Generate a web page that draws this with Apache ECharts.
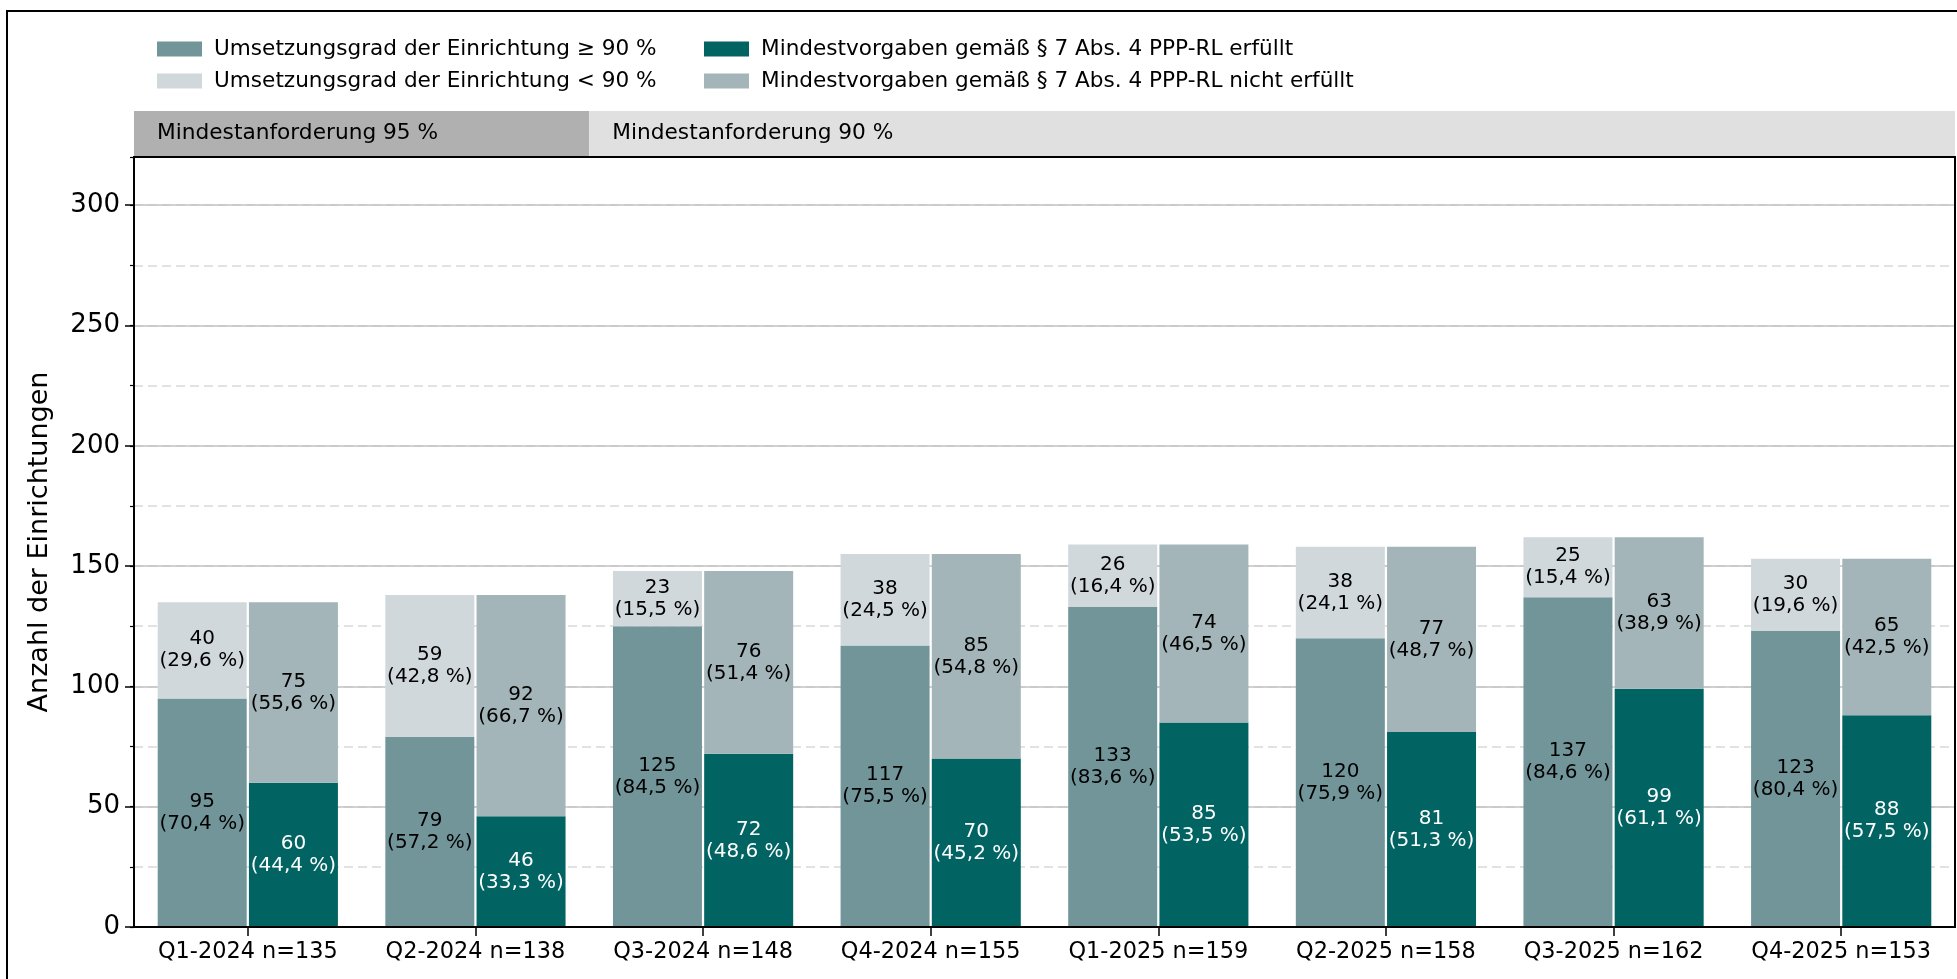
<!DOCTYPE html>
<html>
<head>
<meta charset="utf-8">
<script src="https://cdn.jsdelivr.net/npm/echarts@6/dist/echarts.min.js"></script>
<style>
html,body{margin:0;padding:0;background:#fff;}
#chart{width:1957px;height:979px;}
</style>
</head>
<body>
<div id="chart"></div>
<script>
// ---- data ----
const quarters = ['Q1-2024','Q2-2024','Q3-2024','Q4-2024','Q1-2025','Q2-2025','Q3-2025','Q4-2025'];
const nValues  = [135, 138, 148, 155, 159, 158, 162, 153];

const seriesNames = [
  'Umsetzungsgrad der Einrichtung ≥ 90 %',
  'Umsetzungsgrad der Einrichtung < 90 %',
  'Mindestvorgaben gemäß § 7 Abs. 4 PPP-RL erfüllt',
  'Mindestvorgaben gemäß § 7 Abs. 4 PPP-RL nicht erfüllt'
];
const ge90      = [95, 79, 125, 117, 133, 120, 137, 123];
const ge90Pct   = ['70,4','57,2','84,5','75,5','83,6','75,9','84,6','80,4'];
const lt90      = [40, 59, 23, 38, 26, 38, 25, 30];
const lt90Pct   = ['29,6','42,8','15,5','24,5','16,4','24,1','15,4','19,6'];
const met       = [60, 46, 72, 70, 85, 81, 99, 88];
const metPct    = ['44,4','33,3','48,6','45,2','53,5','51,3','61,1','57,5'];
const notMet    = [75, 92, 76, 85, 74, 77, 63, 65];
const notMetPct = ['55,6','66,7','51,4','54,8','46,5','48,7','38,9','42,5'];

// phases: [first quarter index, last quarter index, label]
const phaseNames = ['Mindestanforderung 95 %', 'Mindestanforderung 90 %'];
const phaseStart = [0, 2];
const phaseEnd   = [1, 7];

const yAxisTitle = 'Anzahl der Einrichtungen';

// ---- styles ----
const FONT = 'DejaVu Sans';
const colors = ['#72959a', '#d0d8db', '#026363', '#a3b5b8'];
const phaseColors = ['#b0b0b0', '#e0e0e0'];
const labelColors = ['#000', '#000', '#fff', '#000'];

const categories = quarters.map((q, i) => q + ' n=' + nValues[i]);

function barSeries(idx, values, pcts, stack) {
  return {
    name: seriesNames[idx],
    type: 'bar',
    stack: stack,
    xAxisIndex: 0,
    yAxisIndex: 1,
    data: values,
    barWidth: 89,
    barGap: '2.5%',
    itemStyle: { color: colors[idx] },
    label: {
      show: true,
      position: 'inside',
      fontFamily: FONT,
      fontSize: 20,
      lineHeight: 22,
      color: labelColors[idx],
      formatter: p => p.value + '\n(' + pcts[p.dataIndex] + ' %)'
    }
  };
}

const bandData = phaseNames.map((name, i) => [phaseStart[i], phaseEnd[i], i]);

function renderBand(params, api) {
  const s = api.value(0), e = api.value(1), ph = api.value(2);
  const half = api.size([1, 0])[0] / 2;
  const p0 = api.coord([s, 1]);
  const p1 = api.coord([e, 0]);
  const x0 = p0[0] - half, x1 = p1[0] + half;
  const y0 = p0[1], y1 = p1[1];
  return {
    type: 'group',
    children: [
      { type: 'rect', shape: { x: x0, y: y0, width: x1 - x0, height: y1 - y0 },
        style: { fill: phaseColors[ph] } },
      { type: 'text', x: x0 + 23, y: (y0 + y1) / 2,
        style: { text: phaseNames[ph], fontFamily: FONT, fontSize: 21.7, fill: '#000',
                 verticalAlign: 'middle', align: 'left' } }
    ]
  };
}

const chart = echarts.init(document.getElementById('chart'), null, { renderer: 'canvas' });

const legendCommon = {
  orient: 'vertical',
  top: 33,
  itemWidth: 45,
  itemHeight: 15,
  itemGap: 10,
  icon: 'rect',
  selectedMode: false,
  textStyle: { fontFamily: FONT, fontSize: 21.6, color: '#000', lineHeight: 22, padding: [0, 0, 0, 7] }
};

chart.setOption({
  animation: false,
  backgroundColor: '#fff',
  textStyle: { fontFamily: FONT },
  graphic: [{
    type: 'rect',
    z: -10,
    silent: true,
    shape: { x: 7, y: 11, width: 3000, height: 3000 },
    style: { fill: 'none', stroke: '#000', lineWidth: 2 }
  }],
  legend: [
    Object.assign({ left: 152, data: [seriesNames[0], seriesNames[1]] }, legendCommon),
    Object.assign({ left: 699, data: [seriesNames[2], seriesNames[3]] }, legendCommon)
  ],
  grid: [
    { left: 134, top: 157, width: 1821, height: 770, show: true, borderColor: '#000', borderWidth: 2, backgroundColor: 'transparent', z: 5 },
    { left: 134, top: 111, width: 1821, height: 45 }
  ],
  xAxis: [
    {
      type: 'category', gridIndex: 0, data: categories,
      axisLine: { show: true, lineStyle: { color: '#000', width: 2 } },
      axisTick: { show: true, alignWithLabel: true, length: 9, lineStyle: { color: '#000', width: 1.5 } },
      axisLabel: { interval: 0, fontFamily: FONT, fontSize: 22.4, color: '#000', margin: 14 },
      splitLine: { show: false }
    },
    {
      type: 'category', gridIndex: 1, data: categories, show: false
    }
  ],
  yAxis: [
    {
      type: 'value', gridIndex: 0, min: 0, max: 320, interval: 25, position: 'left',
      axisLine: { show: false },
      axisLabel: { show: false },
      axisTick: { show: true, length: 4, lineStyle: { color: '#000', width: 1.2 } },
      splitLine: { show: true, lineStyle: { color: '#d9d9d9', width: 1.5, type: [9, 5] } }
    },
    {
      type: 'value', gridIndex: 0, min: 0, max: 320, interval: 50, position: 'left',
      name: yAxisTitle, nameLocation: 'middle', nameGap: 81,
      nameTextStyle: { fontFamily: FONT, fontSize: 27, color: '#000' },
      axisLine: { show: true, lineStyle: { color: '#000', width: 2 } },
      axisTick: { show: true, length: 9, lineStyle: { color: '#000', width: 1.5 } },
      axisLabel: { fontFamily: FONT, fontSize: 26, color: '#000', margin: 14, showMaxLabel: false,
        formatter: v => (v % 50 === 0 ? String(v) : '') },
      splitLine: { show: true, lineStyle: { color: '#c2c2c2', width: 1.5, type: 'solid' } }
    },
    {
      type: 'value', gridIndex: 1, min: 0, max: 1, show: false
    }
  ],
  series: [
    barSeries(0, ge90, ge90Pct, 'umsetzung'),
    barSeries(1, lt90, lt90Pct, 'umsetzung'),
    barSeries(2, met, metPct, 'vorgaben'),
    barSeries(3, notMet, notMetPct, 'vorgaben'),
    {
      name: 'phase',
      type: 'custom',
      xAxisIndex: 1,
      yAxisIndex: 2,
      silent: true,
      clip: false,
      renderItem: renderBand,
      encode: { x: [0, 1], y: 2 },
      data: bandData
    }
  ]
});
</script>
</body>
</html>
